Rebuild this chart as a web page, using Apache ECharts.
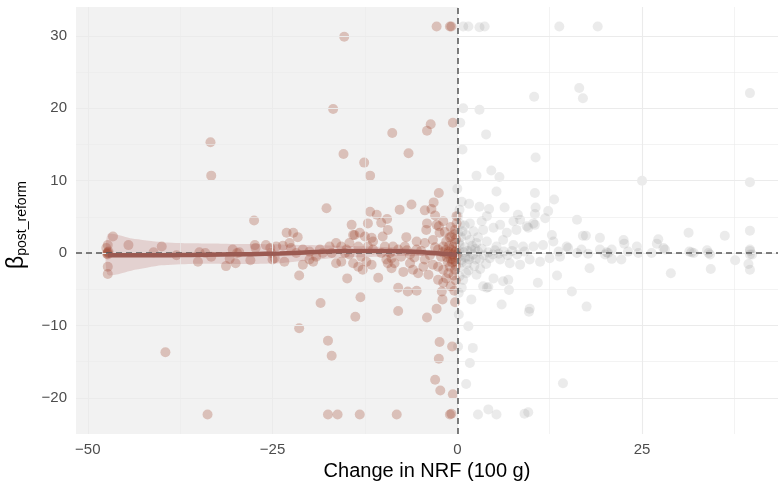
<!DOCTYPE html>
<html>
<head>
<meta charset="utf-8">
<script src="https://cdn.jsdelivr.net/npm/echarts@6/dist/echarts.min.js"></script>
<style>
  html, body { margin: 0; padding: 0; background: #fff; }
  #main { width: 778px; height: 484px; }
</style>
</head>
<body>
<div id="main"></div>
<script>
// axis ticks
const xTicks = [-50, -25, 0, 25];
const yTicks = [-20, -10, 0, 10, 20, 30];
const xMinor = [-37.5, -12.5, 12.5, 37.5];
const yMinor = [-15, -5, 5, 15, 25];

// products whose NRF went down (shaded side)
const brownPts = [
  [-47.3, 0], [-47.3, 0.1], [-47.4, -0.1], [-47.2, 0.2], [-47.3, -0.2], [-47.5, 0.7], [-47.3, 1.1], [-46.6, 2.3],
  [-47.3, -1.9], [-47.3, -2.9], [-44.5, 1.1], [-41.1, 0.1], [-40.0, 0.9], [-38.0, -0.3], [-39.5, -13.7],
  [-35.1, -1.2], [-34.9, 0.1], [-34.1, 0], [-33.3, -0.5], [-33.8, -22.3], [-33.4, 15.3], [-33.3, 10.7],
  [-31.3, -1.8], [-30.4, 0.5], [-29.8, 0], [-29.5, 0.1], [-30.8, -0.8], [-30.0, -1.4], [-28.0, -1.0],
  [-27.4, 1.1], [-27.3, 0.7], [-27.5, 4.5], [-25.9, 1.1], [-25.3, 0.7], [-25.2, 0], [-25.0, -0.9],
  [-24.5, 0.9], [-23.6, 1.0], [-22.7, 1.4], [-22.5, 0.7], [-24.7, -0.7], [-23.4, -1.2], [-20.9, -1.6],
  [-23.1, 2.8], [-22.2, 2.8], [-21.6, 2.2], [-21.4, -3.1], [-21.4, -10.4], [-20.0, 0.2], [-19.1, -0.5],
  [-21.8, 0], [-20.9, 0.5], [-20.0, -0.9], [-19.5, -1.2], [-18.6, 0.5], [-18.2, 0], [-18.5, -6.9],
  [-17.7, 6.2], [-17.5, -12.1], [-17.0, -14.2], [-17.5, -22.3], [-16.2, -22.3], [-17.3, 0.9], [-17.0, 0],
  [-16.8, 19.9], [-16.4, -1.4], [-15.7, -1.2], [-16.4, 1.4], [-15.7, 0.9], [-15.2, 0], [-15.3, 29.9],
  [-15.4, 13.7], [-15.0, 0.5], [-14.6, 1.4], [-13.9, 2.5], [-14.3, 3.9], [-14.1, -1.4], [-14.6, -0.2],
  [-14.9, -3.5], [-14.1, 2.5], [-13.4, 0.9], [-13.0, -0.5], [-13.1, -6.1], [-13.8, -8.8], [-13.2, -22.3],
  [-13.2, 2.8], [-12.5, 2.3], [-13.4, -1.9], [-12.8, -2.3], [-12.3, -1.2], [-12.6, 12.5], [-11.8, 10.7],
  [-11.8, 5.7], [-10.9, 5.3], [-12.1, 4.1], [-11.6, 2.1], [-11.4, 1.6], [-12.1, 0.9], [-11.4, 0.5],
  [-11.6, -1.6], [-10.7, -3.4], [-10.3, 4.2], [-9.5, 4.7], [-9.4, 3.2], [-10.1, 2.3], [-9.8, 0.9],
  [-10.3, 0], [-9.6, -0.9], [-8.9, -2.1], [-9.4, -1.4], [-8.8, 16.6], [-8.0, 0.5], [-8.7, 0.9], [-9.1, 0],
  [-8.5, -1.4], [-8.9, -0.7], [-8.0, -4.8], [-8.0, -8.0], [-8.2, -22.3], [-7.8, 6.0], [-6.9, 2.2],
  [-7.1, 0.9], [-7.6, -0.5], [-6.4, -0.2], [-6.4, -1.4], [-6.0, -2.3], [-6.6, 13.8], [-6.2, 6.7],
  [-6.7, -5.3], [-5.5, -5.2], [-5.5, 1.6], [-5.5, 0.5], [-5.3, -2.8], [-4.4, 5.9], [-3.5, 6.1], [-3.0, 5.2],
  [-3.2, 7.0], [-4.1, 4.1], [-4.2, 3.2], [-3.6, 17.8], [-4.1, 16.9], [-2.8, 31.3], [-1.0, 31.3], [-0.8, 31.3],
  [-0.6, 18.0], [-2.5, 8.3], [-1.9, 4.4], [-2.5, 3.7], [-2.8, 3.9], [-2.4, 2.8], [-1.0, 2.2], [-4.4, 1.4],
  [-3.3, 1.8], [-2.6, 0.5], [-1.9, 0.9], [-1.5, 1.6], [-4.4, -0.9], [-3.3, -1.6], [-2.6, -1.9], [-1.9, -2.3],
  [-1.0, -1.9], [-0.6, -0.9], [-0.8, 0.5], [-0.3, 1.4], [-0.8, 2.3], [-0.3, 3.2], [-0.1, 4.1], [-0.1, 5.1],
  [-2.6, -3.7], [-1.9, -4.1], [-2.1, -5.3], [-1.2, -2.8], [-0.3, -2.3], [-4.6, -1.9], [-4.1, -8.9],
  [-2.8, -7.7], [-2.0, -6.4], [-0.3, -6.8], [-2.4, -12.3], [-0.7, -12.9], [-2.5, -14.6], [-3.0, -17.5],
  [-2.3, -19.0], [-0.6, -19.5], [-1.0, -22.3], [-0.8, -22.2],
  [-0.2, 0.3], [-0.4, -0.5], [-0.2, -1.2], [-0.5, 0.9], [-0.1, -0.3], [-0.3, 0.1], [-0.6, -0.2], [-0.2, 1.9],
  [-0.4, 2.6], [-0.2, -1.8], [-0.7, -1.3], [-1.2, 0.2], [-1.4, -0.6], [-1.1, 1.0], [-0.9, -0.8], [-1.6, 0.4],
  [-1.3, -1.2], [-0.5, -3.1], [-0.2, -3.8], [-0.9, -4.6], [-0.4, -5.2], [-1.5, -3.5], [-1.7, 2.9], [-0.9, 3.6],
  [-1.3, -0.1], [-2.2, -0.5], [-2.0, 0.1], [-3.7, -0.3], [-3.0, 0.8], [-4.9, 0.3], [-5.8, -0.6], [-6.8, 0.4],
  [-7.3, -2.6], [-3.9, -3.0]
];

// products whose NRF went up
const grayPts = [
  [0.8, 31.3], [1.5, 31.3], [3.0, 31.2], [3.7, 31.3], [13.8, 31.3], [19.0, 31.3],
  [0.8, 20.0], [3.0, 19.8], [0.4, 18.0], [3.9, 16.4], [10.4, 21.6], [16.5, 22.8], [17.0, 21.4], [39.6, 22.1],
  [0.7, 14.3], [10.6, 13.2], [2.6, 10.7], [4.6, 11.4], [5.7, 10.5], [0.0, 8.9], [5.3, 8.5], [10.5, 8.3],
  [13.1, 7.4], [0.6, 7.1], [1.6, 6.8], [3.0, 6.4], [4.3, 6.1], [6.4, 6.3], [10.6, 6.3], [12.3, 5.8],
  [11.9, 4.8], [16.2, 4.6], [25.0, 10.0], [39.6, 9.8], [8.2, 5.3], [8.5, 4.6], [7.6, 4.4], [10.5, 5.4],
  [1.7, 4.1], [3.3, 4.4], [4.0, 5.1], [3.5, 3.2], [4.9, 3.5], [5.8, 3.9], [6.7, 2.8], [8.0, 3.2], [9.4, 3.7],
  [10.5, 3.9], [0.1, 5.1], [0.1, 2.8], [9.6, 3.5], [10.3, 4.1], [12.8, 2.5], [13.0, 1.6], [17.0, 2.4],
  [17.4, 2.4], [19.3, 2.1], [14.8, 0.9], [16.8, 0.5], [17.7, -0.1], [20.4, 0],
  [1.7, 1.8], [2.6, 1.4], [4.0, 1.6], [5.3, 0.9], [6.2, 1.8], [7.6, 1.1], [8.9, 0.9], [10.3, 0.9], [11.6, 1.1],
  [1.7, -0.5], [3.0, -0.9], [4.4, -0.7], [5.8, -0.9], [7.1, -1.4], [8.5, -1.6], [9.8, -0.9], [11.2, -1.2],
  [12.5, -0.7], [13.9, -0.5], [17.9, -2.1], [13.5, -3.1], [1.2, -2.8], [2.6, -3.0], [4.9, -3.5], [6.2, -3.9],
  [6.9, -3.7], [3.5, -4.6], [4.2, -4.7], [7.0, -5.1], [10.9, -4.1], [15.5, -5.3], [1.9, -6.4], [6.0, -7.1],
  [9.8, -7.7], [17.5, -7.4], [9.7, -8.1], [14.3, -18.0], [9.1, -22.2], [9.6, -22.0],
  [2.8, -22.3], [4.2, -21.6], [5.3, -22.3], [1.5, -10.1], [2.1, -13.1], [1.7, -15.2], [1.2, -18.1], [0.1, -12.9],
  [0.8, -3.7], [4.0, -4.8],
  [22.5, 1.8], [27.2, 1.9], [22.6, 1.3], [24.3, 0.9], [27.0, 1.3], [27.9, 0.7], [31.3, 2.8], [36.2, 2.4],
  [39.6, 3.1], [31.7, 0.1], [33.8, 0.4], [34.2, -0.2], [39.6, 0.5], [39.6, -0.2], [37.6, -1.0], [39.4, -1.5],
  [39.6, -2.3], [34.3, -2.2], [28.9, -2.8], [22.2, -0.9], [20.9, -0.8], [13.7, 0.2], [15.0, 0.7], [16.2, 0],
  [20.2, 0.1], [19.3, 0.5], [20.0, -0.2], [20.9, 0.5], [23.1, 0.2], [24.5, 0], [26.3, 0], [28.1, 0.5],
  [31.4, 0.2], [32.0, 0], [34.0, 0], [39.9, -0.2], [39.6, 0.3],
  [0.2, 0.3], [0.4, -0.4], [0.3, 1.1], [0.6, -1.3], [0.2, -2.0], [0.5, 2.2], [0.9, 0.1], [1.1, -0.6],
  [1.0, 0.8], [1.3, -1.5], [1.4, 0.3], [0.7, 3.0], [1.2, 2.5], [1.9, 0.5], [2.1, -0.2], [2.3, -1.8],
  [2.0, 1.0], [2.8, 0.2], [2.5, -0.9], [3.3, 0.6], [3.6, -0.3], [3.1, -2.2], [3.9, -1.5], [4.2, 0.1],
  [4.8, -0.2], [5.1, 0.4], [5.6, -0.1], [6.3, 0.2], [6.8, -0.3], [7.4, 0.3], [8.1, -0.2], [9.1, 0.2],
  [0.3, -3.2], [0.6, -4.8], [0.2, -5.5], [1.5, -2.4], [0.4, 4.0], [1.0, 3.8], [2.2, 3.0], [2.8, 2.2],
  [0.3, 6.0], [0.2, -8.5], [0.5, -1.0], [0.1, -0.1], [0.2, 1.5], [1.6, -0.9], [2.4, 0.6]
];

// smoothed fit with its band (left side only)
const loessX  = [-47.3, -44, -40, -36, -32, -28, -24, -20, -16, -12, -8, -4, -2, 0];
const loessY  = [-0.3, -0.3, -0.3, -0.25, -0.2, -0.15, -0.05, 0.1, 0.25, 0.3, 0.25, 0.05, -0.1, -0.25];
const loessHi = [2.6, 2.0, 1.5, 1.35, 1.3, 1.25, 1.2, 1.1, 1.0, 0.9, 0.75, 0.45, 0.25, 0.1];
const loessLo = [-3.0, -2.4, -1.7, -1.5, -1.5, -1.5, -1.4, -1.0, -0.65, -0.55, -0.4, -0.4, -0.45, -0.6];

const X_MIN = -51.6, X_MAX = 43.4, Y_MIN = -25, Y_MAX = 34;

const minus = v => String(v).replace('-', '\u2212');

const myChart = echarts.init(document.getElementById('main'));

const gridLines = [];
xTicks.forEach(v => gridLines.push({ xAxis: v, lineStyle: { width: 1.1 } }));
yTicks.forEach(v => gridLines.push({ yAxis: v, lineStyle: { width: 1.1 } }));
xMinor.forEach(v => gridLines.push({ xAxis: v, lineStyle: { width: 0.6 } }));
yMinor.forEach(v => gridLines.push({ yAxis: v, lineStyle: { width: 0.6 } }));

let option = {
  animation: false,
  textStyle: { fontFamily: 'Liberation Sans, Arial, sans-serif' },
  grid: { left: 76, right: 0, top: 7, bottom: 50, outerBoundsMode: 'none' },
  xAxis: {
    type: 'value', min: X_MIN, max: X_MAX,
    name: 'Change in NRF (100 g)', nameLocation: 'middle', nameGap: 24,
    nameTextStyle: { fontSize: 20, color: '#000' },
    axisLine: { show: false }, axisTick: { show: false }, splitLine: { show: false },
    axisLabel: { customValues: xTicks, formatter: minus, fontSize: 15, color: '#4d4d4d', margin: 8 }
  },
  yAxis: {
    type: 'value', min: Y_MIN, max: Y_MAX,
    name: '{b|\u03b2}{s|post_reform}', nameLocation: 'middle', nameGap: 47, nameRotate: 90,
    nameTextStyle: {
      padding: [0, 9, 0, 0],
      rich: {
        b: { fontSize: 23, color: '#000' },
        s: { fontSize: 14, color: '#000', padding: [11, 0, 0, 0] }
      }
    },
    axisLine: { show: false }, axisTick: { show: false }, splitLine: { show: false },
    axisLabel: { customValues: yTicks, formatter: minus, fontSize: 15, color: '#4d4d4d', margin: 9 }
  },
  series: [
    {
      // shaded half and grid
      type: 'scatter', data: [], z: 1, silent: true,
      markArea: {
        silent: true,
        itemStyle: { color: 'rgba(0,0,0,0.05)' },
        data: [[{ coord: [X_MIN, Y_MIN] }, { coord: [0, Y_MAX] }]]
      },
      markLine: {
        silent: true, symbol: 'none', label: { show: false },
        lineStyle: { type: 'solid', color: '#ebebeb' },
        data: gridLines
      }
    },
    {
      type: 'scatter', data: grayPts, z: 2, symbolSize: 10,
      itemStyle: { color: 'rgba(128,128,128,0.2)' }
    },
    {
      type: 'scatter', data: brownPts, z: 3, symbolSize: 10,
      itemStyle: { color: 'rgba(160,70,45,0.36)' }
    },
    {
      type: 'custom', z: 4, silent: true,
      data: loessX.map((x, i) => [x, loessLo[i], loessHi[i]]),
      encode: { x: 0, y: [1, 2] },
      renderItem: function (params, api) {
        if (params.dataIndex !== 0) return;
        const up = [], lo = [];
        loessX.forEach((x, i) => {
          up.push(api.coord([x, loessHi[i]]));
          lo.push(api.coord([x, loessLo[i]]));
        });
        return {
          type: 'polygon',
          shape: { points: up.concat(lo.reverse()), smooth: 0.2 },
          style: { fill: 'rgba(175,90,85,0.22)' }
        };
      }
    },
    {
      type: 'line', z: 5, smooth: true, symbol: 'none', silent: true,
      data: loessX.map((x, i) => [x, loessY[i]]),
      lineStyle: { color: '#9b5a52', width: 4.5 }
    },
    {
      type: 'scatter', data: [], z: 6, silent: true,
      markLine: {
        silent: true, symbol: 'none', label: { show: false },
        lineStyle: { color: '#555', width: 1.5, type: [6, 4] },
        data: [{ xAxis: 0 }, { yAxis: 0 }]
      }
    }
  ]
};

option && myChart.setOption(option);
</script>
</body>
</html>
